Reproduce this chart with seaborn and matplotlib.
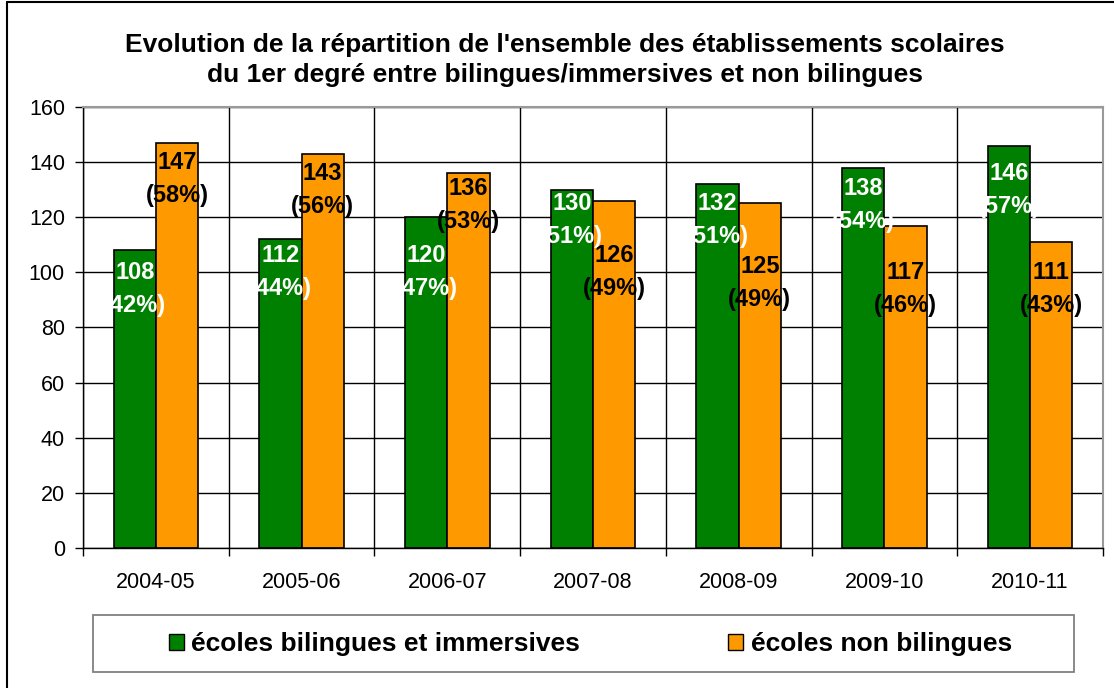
import numpy as np
import pandas as pd
import matplotlib.pyplot as plt
import seaborn as sns
from matplotlib.patches import Patch, Rectangle
from matplotlib.lines import Line2D

# --- Données ---
years = ["2004-05", "2005-06", "2006-07", "2007-08", "2008-09", "2009-10", "2010-11"]
bilingues = [108, 112, 120, 130, 132, 138, 146]
non_bilingues = [147, 143, 136, 126, 125, 117, 111]

# hauteur du centre des étiquettes (placées à la main dans le graphique d'origine)
label_y_bilingues = [94, 100, 100, 119, 119, 124.5, 130]
label_y_non_bilingues = [134, 130, 124.5, 100, 96, 94, 94]

series = ["écoles bilingues et immersives", "écoles non bilingues"]
colors = ["#008000", "#FF9900"]

df = pd.DataFrame({
    "annee": years * 2,
    "type": [series[0]] * len(years) + [series[1]] * len(years),
    "nb": bilingues + non_bilingues,
})

sns.set_style("white")
plt.rcParams["font.family"] = ["Liberation Sans", "DejaVu Sans"]
plt.rcParams["text.color"] = "black"
plt.rcParams["xtick.color"] = "black"
plt.rcParams["ytick.color"] = "black"

fig = plt.figure(figsize=(11.14, 6.88), dpi=100)
ax = fig.add_axes([0.0745, 0.2035, 0.9156, 0.641])

sns.barplot(data=df, x="annee", y="nb", hue="type", palette=colors, saturation=1,
            width=0.58, edgecolor="black", linewidth=1.2, legend=False, ax=ax)

# axes / grille façon Excel
ax.set_ylim(0, 160)
ax.set_xlim(-0.5, len(years) - 0.5)
ax.set_yticks(range(0, 161, 20))
ax.set_xticks(np.arange(-0.5, len(years), 1), minor=True)
ax.yaxis.grid(True, color="black", linewidth=1)
ax.xaxis.grid(True, which="minor", color="black", linewidth=1)
ax.xaxis.grid(False, which="major")
ax.set_axisbelow(True)
ax.set_xlabel("")
ax.set_ylabel("")
ax.tick_params(axis="x", which="major", length=0, labelsize=15.5, pad=17, labelcolor="black")
ax.tick_params(axis="x", which="minor", length=6, width=1, color="black", direction="out", bottom=True)
ax.tick_params(axis="y", length=6, width=1, color="black", direction="out", left=True,
               labelsize=15.5, pad=7, labelcolor="black")
for side in ["left", "bottom"]:
    ax.spines[side].set_color("black")
    ax.spines[side].set_linewidth(1)
for side in ["top", "right"]:
    ax.spines[side].set_color("#999999")
    ax.spines[side].set_linewidth(1.5)

# étiquettes de valeurs
for cont, vals, ys, tcol in zip(ax.containers, [bilingues, non_bilingues],
                                [label_y_bilingues, label_y_non_bilingues], ["white", "black"]):
    for i, (bar, v, y) in enumerate(zip(cont, vals, ys)):
        pct = round(100 * v / (bilingues[i] + non_bilingues[i]))
        ax.text(bar.get_x() + bar.get_width() / 2, y, f"{v}\n({pct}%)",
                ha="center", va="center", fontsize=17, fontweight="bold",
                color=tcol, linespacing=1.55, zorder=5)

# titre
fig.text(0.507, 0.913,
         "Evolution de la répartition de l'ensemble des établissements scolaires\n"
         "du 1er degré entre bilingues/immersives et non bilingues",
         ha="center", va="center", fontsize=19, fontweight="bold", linespacing=1.35)

# légende dans un cadre
fig.patches.append(Rectangle((0.0835, 0.0233), 0.8806, 0.0828, transform=fig.transFigure,
                             facecolor="white", edgecolor="#808080", linewidth=1.3, zorder=0))
handles = [Patch(facecolor=c, edgecolor="black", label=s) for c, s in zip(colors, series)]
fig.legend(handles=handles, loc="center", bbox_to_anchor=(0.53, 0.064), ncol=2, frameon=False,
           prop={"size": 19, "weight": "bold"}, handlelength=0.57, handleheight=0.57,
           handletextpad=0.3, columnspacing=5.6)

# bordure extérieure
fig.add_artist(Line2D([0.0063, 0.0063], [0, 0.997], transform=fig.transFigure, color="black", linewidth=1.5))
fig.add_artist(Line2D([0.0063, 1], [0.997, 0.997], transform=fig.transFigure, color="black", linewidth=1.5))

plt.savefig("out.png", dpi=100)
